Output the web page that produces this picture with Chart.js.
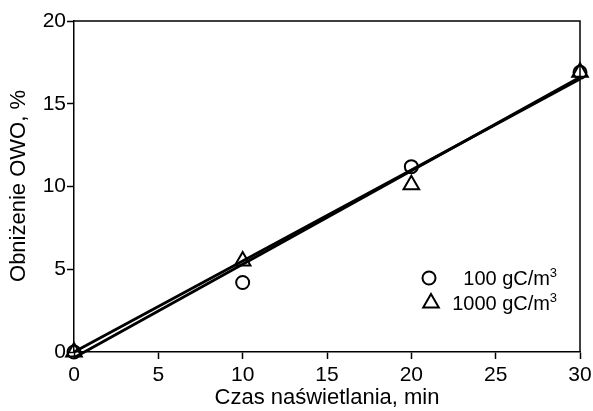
<!DOCTYPE html>
<html>
<head>
<meta charset="utf-8">
<script src="https://cdn.jsdelivr.net/npm/chart.js@4/dist/chart.umd.min.js"></script>
<style>
  html, body { margin: 0; padding: 0; background: #fff; }
  #wrap { width: 593px; height: 411px; position: relative; }
</style>
</head>
<body>
<div id="wrap"><canvas id="c"></canvas></div>
<script>
// dane
const czas = [0, 10, 20, 30];
const owo100 = [0, 4.2, 11.2, 16.9];
const owo1000 = [0, 5.5, 10.1, 16.9];
// linie trendu (końce)
const trend100X = [0, 30];
const trend100Y = [-0.35, 16.6];
const trend1000X = [0, 30];
const trend1000Y = [0, 16.5];
const xTicks = [0, 5, 10, 15, 20, 25, 30];
const yTicks = [0, 5, 10, 15, 20];
const legendLabels = ['100 gC/m', '1000 gC/m'];

const FONT = '"Liberation Sans", Arial, sans-serif';

function pts(xs, ys) {
    return xs.map((x, i) => ({ x: x, y: ys[i] }));
}

// ramka + tytuły osi + legenda wewnątrz wykresu
const extras = {
    id: 'extras',
    afterDatasetsDraw(chart) {
        const ctx = chart.ctx;
        const a = chart.chartArea;
        ctx.save();
        ctx.strokeStyle = '#000';
        ctx.lineWidth = 1.5;
        ctx.beginPath();
        ctx.moveTo(a.left, a.top);
        ctx.lineTo(a.right, a.top);
        ctx.lineTo(a.right, a.bottom);
        ctx.stroke();

        ctx.fillStyle = '#000';
        ctx.font = '22px ' + FONT;
        ctx.textAlign = 'center';
        ctx.textBaseline = 'middle';
        ctx.fillText('Czas naświetlania, min', (a.left + a.right) / 2, 398);

        ctx.save();
        ctx.translate(19, 186);
        ctx.rotate(-Math.PI / 2);
        ctx.fillText('Obniżenie OWO, %', 0, 0);
        ctx.restore();

        // legenda
        ctx.textBaseline = 'alphabetic';
        ctx.textAlign = 'right';
        const rightX = 550;
        const rows = [285, 310];
        legendLabels.forEach((lab, i) => {
            const y = rows[i];
            ctx.font = '13px ' + FONT;
            ctx.fillText('3', rightX + 7, y - 8);
            ctx.font = '20px ' + FONT;
            ctx.fillText(lab, rightX, y);
        });
        ctx.lineWidth = 2;
        ctx.beginPath();
        ctx.arc(429, 278, 6.5, 0, Math.PI * 2);
        ctx.stroke();
        const r = 9, cx = 431, cy = 303;
        ctx.beginPath();
        ctx.moveTo(cx, cy - r);
        ctx.lineTo(cx + r * Math.sin(2 * Math.PI / 3), cy - r * Math.cos(2 * Math.PI / 3));
        ctx.lineTo(cx + r * Math.sin(4 * Math.PI / 3), cy - r * Math.cos(4 * Math.PI / 3));
        ctx.closePath();
        ctx.stroke();
        ctx.restore();
    }
};

const chart = new Chart(document.getElementById('c'), {
    type: 'scatter',
    data: {
        datasets: [
            {
                label: 'trend100',
                data: pts(trend100X, trend100Y),
                showLine: true,
                borderColor: '#000',
                borderWidth: 2.8,
                pointRadius: 0,
                clip: false
            },
            {
                label: 'trend1000',
                data: pts(trend1000X, trend1000Y),
                showLine: true,
                borderColor: '#000',
                borderWidth: 2.8,
                pointRadius: 0,
                clip: false
            },
            {
                label: '100 gC/m3',
                data: pts(czas, owo100),
                pointStyle: 'circle',
                pointRadius: 6.5,
                borderWidth: 2,
                borderColor: '#000',
                backgroundColor: 'rgba(0,0,0,0)',
                clip: false
            },
            {
                label: '1000 gC/m3',
                data: pts(czas, owo1000),
                pointStyle: 'triangle',
                pointRadius: 9,
                borderWidth: 2,
                borderColor: '#000',
                backgroundColor: 'rgba(0,0,0,0)',
                clip: false
            }
        ]
    },
    options: {
        responsive: true,
        maintainAspectRatio: false,
        animation: false,
        layout: { padding: { top: 21, right: 13, left: 0, bottom: 0 } },
        plugins: {
            legend: { display: false },
            tooltip: { enabled: false }
        },
        scales: {
            x: {
                type: 'linear',
                min: 0,
                max: 30,
                afterBuildTicks: (s) => { s.ticks = xTicks.map(v => ({ value: v })); },
                afterFit: (s) => { s.height = 59; s.paddingLeft = 0; s.paddingRight = 0; },
                grid: { drawOnChartArea: false, tickLength: 7, tickColor: '#000', tickWidth: 1.5 },
                border: { color: '#000', width: 1.5 },
                ticks: { color: '#000', font: { family: FONT, size: 21 }, padding: 4, maxRotation: 0 }
            },
            y: {
                type: 'linear',
                min: 0,
                max: 20,
                afterBuildTicks: (s) => { s.ticks = yTicks.map(v => ({ value: v })); },
                afterFit: (s) => { s.width = 74; s.paddingTop = 0; s.paddingBottom = 0; },
                grid: { drawOnChartArea: false, tickLength: 7, tickColor: '#000', tickWidth: 1.5 },
                border: { color: '#000', width: 1.5 },
                ticks: { color: '#000', font: { family: FONT, size: 21 }, padding: 1 }
            }
        }
    },
    plugins: [extras]
});
</script>
</body>
</html>
